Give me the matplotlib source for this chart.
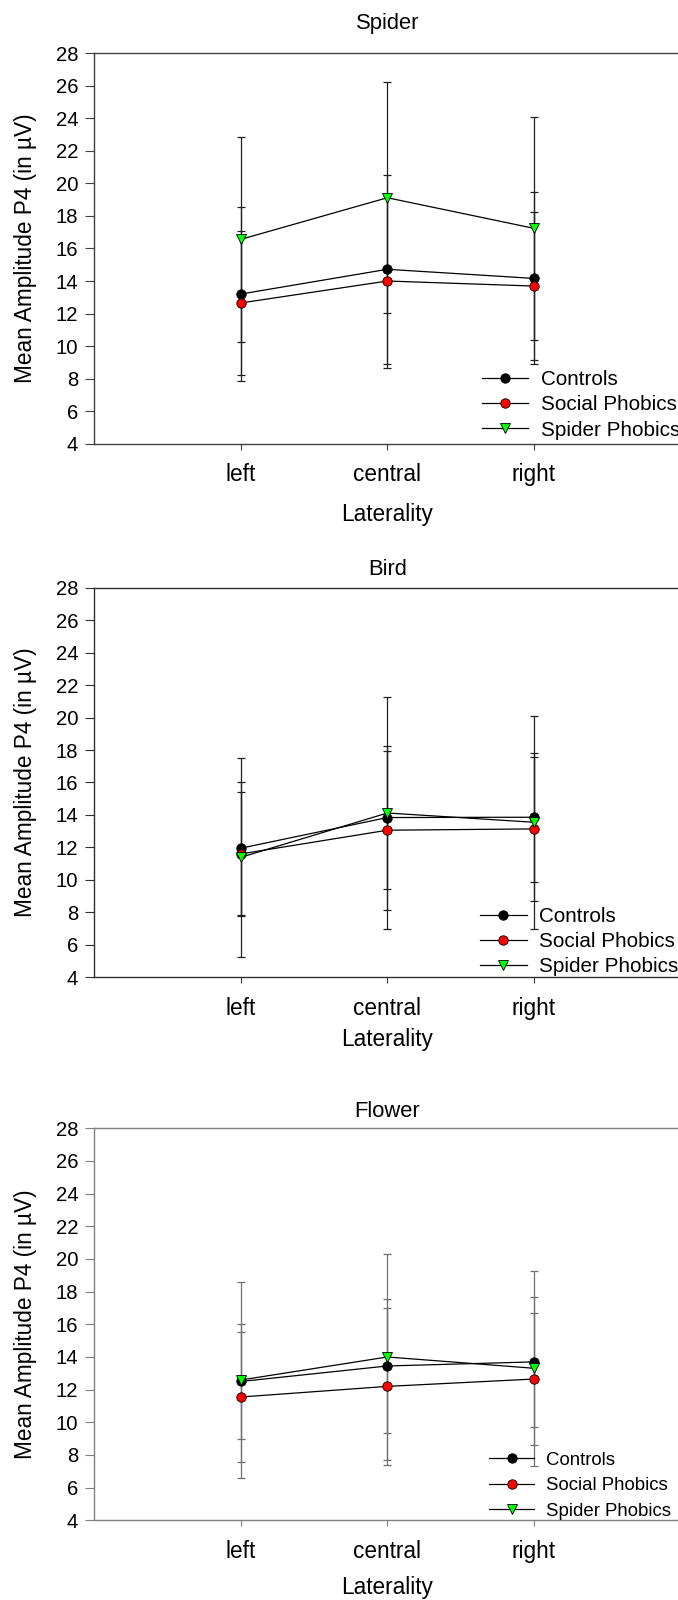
import numpy as np
import matplotlib.pyplot as plt

plt.rcParams['font.family'] = ['Liberation Sans', 'DejaVu Sans']

# data (means and symmetric error bars), one row per condition
conditions = ['Spider', 'Bird', 'Flower']
laterality = ['left', 'central', 'right']
groups = ['Controls', 'Social Phobics', 'Spider Phobics']

controls_mean = [[13.2, 14.72, 14.16],
                 [11.95, 13.84, 13.86],
                 [12.5, 13.45, 13.7]]
controls_err = [[5.33, 5.82, 5.29],
                [4.1, 4.39, 3.96],
                [3.54, 4.08, 3.98]]

social_mean = [[12.65, 14.0, 13.69],
               [11.6, 13.06, 13.14],
               [11.55, 12.2, 12.65]]
social_err = [[4.42, 5.33, 4.53],
              [3.8, 4.9, 4.43],
              [4.0, 4.8, 4.04]]

spiderph_mean = [[16.56, 19.12, 17.24],
                 [11.39, 14.12, 13.55],
                 [12.59, 14.0, 13.31]]
spiderph_err = [[6.31, 7.09, 6.84],
                [6.12, 7.17, 6.57],
                [6.0, 6.28, 5.98]]

means = [controls_mean, social_mean, spiderph_mean]
errs = [controls_err, social_err, spiderph_err]

# styling / layout
face_cols = ['black', '#ff0000', '#00ff00']
markers = ['o', 'o', 'v']
rects = [[0.1391, 0.7227, 0.8643, 0.2440],
         [0.1391, 0.3892, 0.8643, 0.2435],
         [0.1391, 0.0498, 0.8643, 0.2450]]
spine_cols = ['#404040', '#303030', '#808080']
ebar_cols = ['#202020', '#202020', '#707070']
title_pads = [17.5, 9, 8]
xlabel_pads = [12, 6, 9.3]
legend_pos = [(0.7113, 0.7469), (0.708, 0.4114), (0.7217, 0.0714)]
legend_fs = [14.9, 14.9, 13.4]
legend_hl = [2.22, 2.25, 2.4]
legend_tp = [0.6, 0.58, 0.63]
legend_ls = [0.3, 0.3, 0.45]

fig = plt.figure(figsize=(6.78, 16), dpi=100)
x = np.arange(1, 4)

for i, cond in enumerate(conditions):
    ax = fig.add_axes(rects[i])
    for g in range(3):
        ax.errorbar(x, means[g][i], yerr=errs[g][i], fmt='none',
                    ecolor=ebar_cols[i], elinewidth=0.9, capsize=2.6,
                    capthick=0.9, zorder=2)
    for g in range(3):
        ax.plot(x, means[g][i], color='black', lw=0.9, marker=markers[g],
                ms=6.8, mfc=face_cols[g], mec='black', mew=0.6,
                label=groups[g], zorder=3)

    ax.set_xlim(0, 4)
    ax.set_ylim(4, 28)
    ax.set_yticks(range(4, 29, 2))
    ax.set_xticks(x, laterality)
    ax.tick_params(axis='y', direction='out', length=6.5, width=0.8,
                   labelsize=14.6, pad=5, color=spine_cols[i])
    ax.tick_params(axis='x', direction='out', length=4, width=0.8,
                   labelsize=16.3, pad=10, color=spine_cols[i])
    for s in ['left', 'top', 'bottom']:
        ax.spines[s].set_color(spine_cols[i])
        ax.spines[s].set_linewidth(1.0)
    ax.spines['right'].set_visible(False)

    ax.set_title(cond, fontsize=15.8, pad=title_pads[i])
    ax.set_xlabel('Laterality', fontsize=16.3, labelpad=xlabel_pads[i])
    ax.set_ylabel('Mean Amplitude P4 (in µV)', fontsize=16.3)
    ax.yaxis.set_label_coords(-0.098, 0.5)

    ax.legend(loc='center left', bbox_to_anchor=legend_pos[i],
              bbox_transform=fig.transFigure, frameon=False,
              fontsize=legend_fs[i], handlelength=legend_hl[i],
              handletextpad=legend_tp[i], labelspacing=legend_ls[i],
              borderpad=0, borderaxespad=0)

fig.savefig('out.png', dpi=100)
